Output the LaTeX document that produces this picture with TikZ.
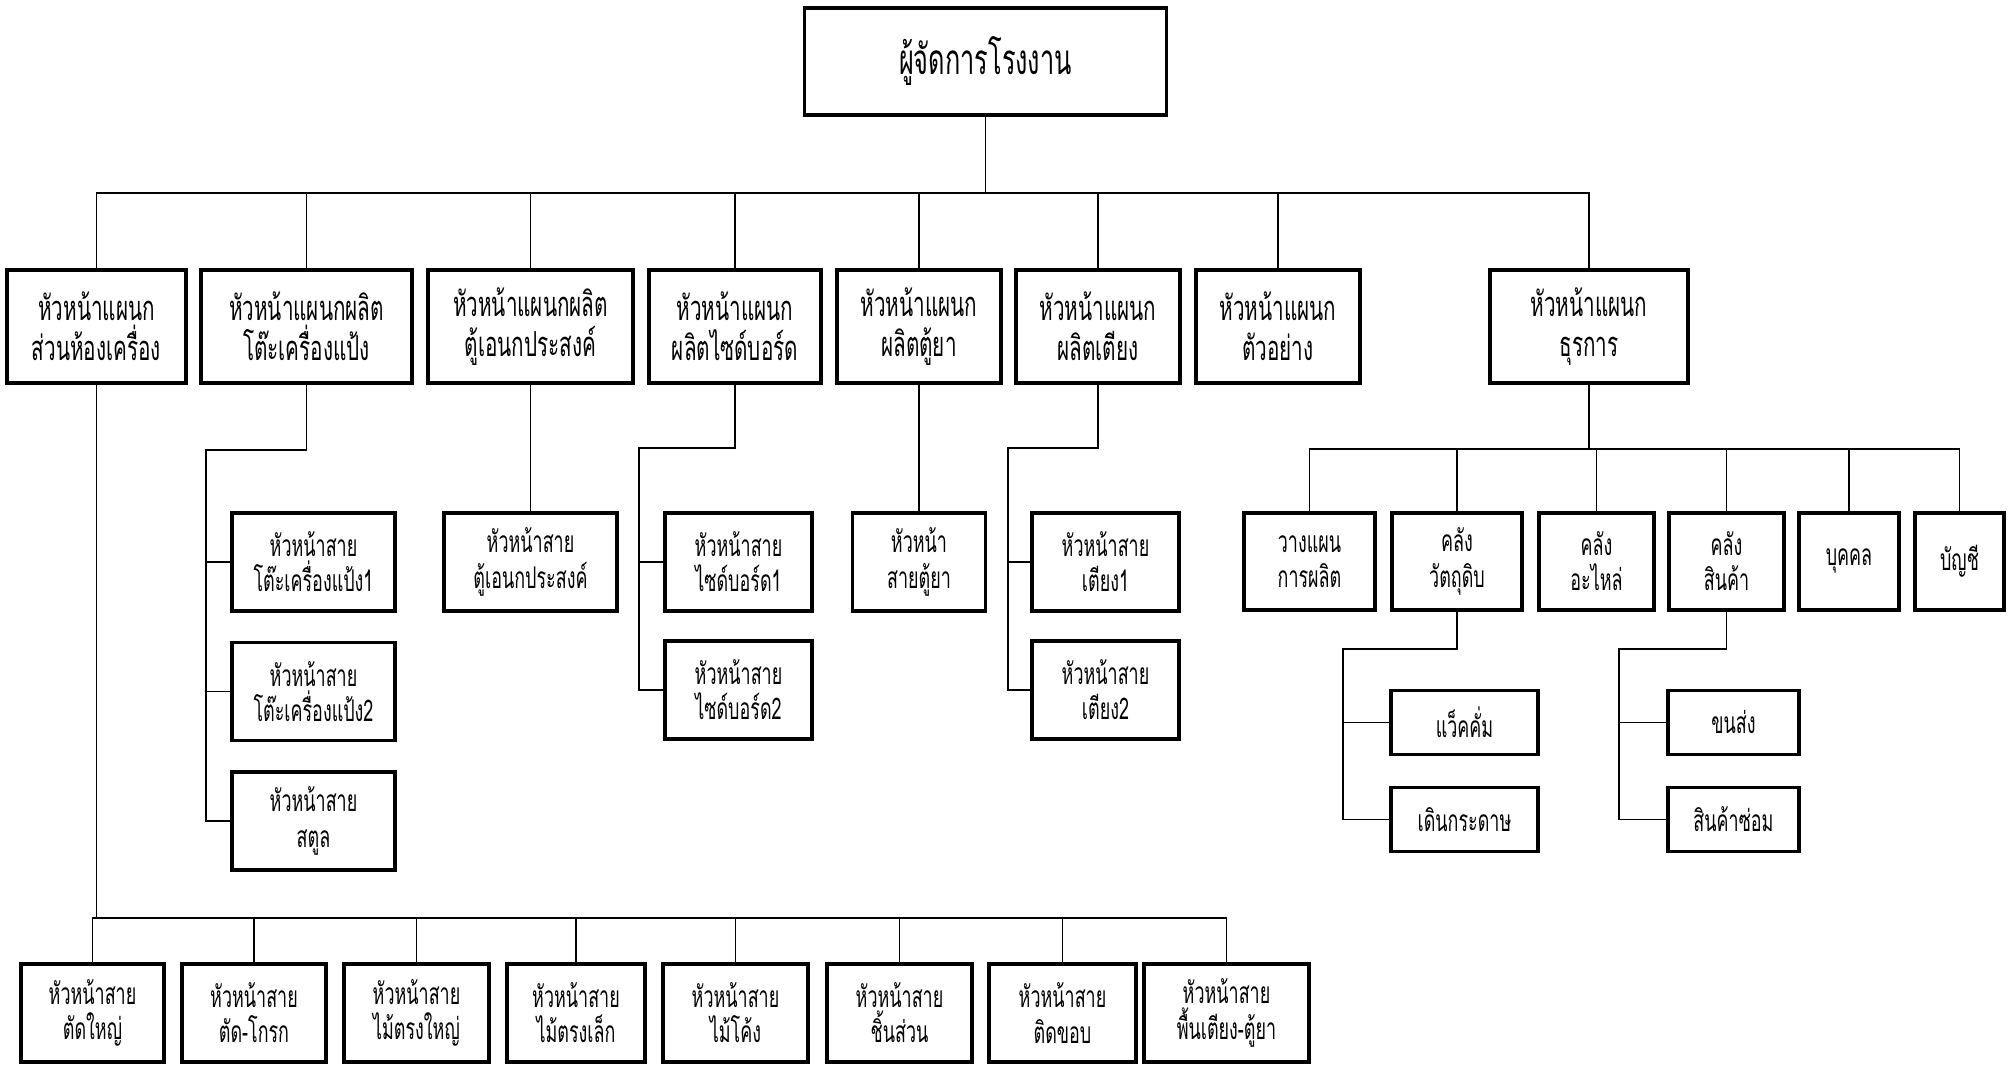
\documentclass[tikz,border=0pt]{standalone}
\usepackage{fontspec}
\newfontfamily\thai[Script=Thai,FakeStretch=0.6]{Loma}

\begin{document}
\begin{tikzpicture}[x=0.01cm,y=-0.01cm,
  box/.style={draw,line width=0.9pt,align=center,inner sep=0pt,
    font=\thai\fontsize{8.5pt}{10pt}\selectfont},
  dept/.style={box,minimum height=1.13cm,font=\thai\fontsize{9.8pt}{11.4pt}\selectfont},
  sub/.style={box,minimum height=0.98cm},
  small/.style={box,minimum height=0.64cm},
  ln/.style={line width=0.5pt}]
  \useasboundingbox (0,0) rectangle (2008,1065);

  % manager
  \node[box,minimum width=3.61cm,minimum height=1.07cm,
    font=\thai\fontsize{12pt}{14pt}\selectfont] (mgr) at (985.5,61.5) {ผู้จัดการโรงงาน};

  % departments
  \node[dept,minimum width=1.79cm] (d1) at (96.5,326.5) {หัวหน้าแผนก\\ส่วนห้องเครื่อง};
  \node[dept,minimum width=2.11cm] (d2) at (306.5,326.5) {หัวหน้าแผนกผลิต\\โต๊ะเครื่องแป้ง};
  \node[dept,minimum width=2.05cm] (d3) at (530.5,326.5) {หัวหน้าแผนกผลิต\\ตู้เอนกประสงค์};
  \node[dept,minimum width=1.72cm] (d4) at (735,326.5) {หัวหน้าแผนก\\ผลิตไซด์บอร์ด};
  \node[dept,minimum width=1.64cm] (d5) at (919,326.5) {หัวหน้าแผนก\\ผลิตตู้ยา};
  \node[dept,minimum width=1.64cm] (d6) at (1098,326.5) {หัวหน้าแผนก\\ผลิตเตียง};
  \node[dept,minimum width=1.64cm] (d7) at (1278,326.5) {หัวหน้าแผนก\\ตัวอย่าง};
  \node[dept,minimum width=1.98cm] (d8) at (1589,326.5) {หัวหน้าแผนก\\ธุรการ};

  % line heads
  \node[sub,minimum width=1.63cm] (s2a) at (313.5,562) {หัวหน้าสาย\\โต๊ะเครื่องแป้ง1};
  \node[sub,minimum width=1.63cm] (s2b) at (313.5,691.5) {หัวหน้าสาย\\โต๊ะเครื่องแป้ง2};
  \node[sub,minimum width=1.63cm] (s2c) at (313.5,821) {หัวหน้าสาย\\สตูล};
  \node[sub,minimum width=1.73cm] (s3) at (530.5,562) {หัวหน้าสาย\\ตู้เอนกประสงค์};
  \node[sub,minimum width=1.47cm] (s4a) at (738.5,562) {หัวหน้าสาย\\ไซด์บอร์ด1};
  \node[sub,minimum width=1.47cm] (s4b) at (738.5,690) {หัวหน้าสาย\\ไซด์บอร์ด2};
  \node[sub,minimum width=1.33cm] (s5) at (919,562) {หัวหน้า\\สายตู้ยา};
  \node[sub,minimum width=1.47cm] (s6a) at (1105.5,562) {หัวหน้าสาย\\เตียง1};
  \node[sub,minimum width=1.47cm] (s6b) at (1105.5,690) {หัวหน้าสาย\\เตียง2};

  % administration
  \node[sub,minimum width=1.31cm,minimum height=0.97cm] (a1) at (1309.5,561.5) {วางแผน\\การผลิต};
  \node[sub,minimum width=1.30cm,minimum height=0.97cm] (a2) at (1457,561.5) {คลัง\\วัตถุดิบ};
  \node[sub,minimum width=1.15cm,minimum height=0.97cm] (a3) at (1596.5,561.5) {คลัง\\อะไหล่};
  \node[sub,minimum width=1.15cm,minimum height=0.97cm] (a4) at (1726.5,561.5) {คลัง\\สินค้า};
  \node[sub,minimum width=1.00cm,minimum height=0.97cm] (a5) at (1849,561.5) {บุคคล};
  \node[sub,minimum width=0.89cm,minimum height=0.97cm] (a6) at (1959.5,561.5) {บัญชี};
  \node[small,minimum width=1.47cm] (w1) at (1464.5,722.5) {แว็คคั่ม};
  \node[small,minimum width=1.47cm] (w2) at (1464.5,819.5) {เดินกระดาษ};
  \node[small,minimum width=1.31cm] (p1) at (1733.5,722.5) {ขนส่ง};
  \node[small,minimum width=1.31cm] (p2) at (1733.5,819.5) {สินค้าซ่อม};

  % machine room lines
  \node[sub,minimum width=1.43cm] (b1) at (92.5,1013) {หัวหน้าสาย\\ตัดใหญ่};
  \node[sub,minimum width=1.44cm] (b2) at (254,1013) {หัวหน้าสาย\\ตัด-โกรก};
  \node[sub,minimum width=1.45cm] (b3) at (416.5,1013) {หัวหน้าสาย\\ไม้ตรงใหญ่};
  \node[sub,minimum width=1.38cm] (b4) at (576,1013) {หัวหน้าสาย\\ไม้ตรงเล็ก};
  \node[sub,minimum width=1.45cm] (b5) at (735.5,1013) {หัวหน้าสาย\\ไม้โค้ง};
  \node[sub,minimum width=1.45cm] (b6) at (899.5,1013) {หัวหน้าสาย\\ชิ้นส่วน};
  \node[sub,minimum width=1.47cm] (b7) at (1062.5,1013) {หัวหน้าสาย\\ติดขอบ};
  \node[sub,minimum width=1.65cm] (b8) at (1226.5,1013) {หัวหน้าสาย\\พื้นเตียง-ตู้ยา};

  % connectors
  \coordinate (busA) at (0,193);
  \coordinate (busB) at (0,918);
  \coordinate (busC) at (0,449);
  \coordinate (sp2) at (206,450);
  \coordinate (sp4) at (639,448);
  \coordinate (sp6) at (1008,448);
  \coordinate (spw) at (1343,649);
  \coordinate (spp) at (1619,649);
  \foreach \i in {1,...,8}
    \draw[ln] (mgr.south) -- (mgr.south |- busA) -| (d\i.north);
  \foreach \i in {1,...,8}
    \draw[ln] (d1.south) -- (d1.south |- busB) -| (b\i.north);
  \foreach \i in {1,...,6}
    \draw[ln] (d8.south) -- (d8.south |- busC) -| (a\i.north);
  \foreach \s in {s2a,s2b,s2c}
    \draw[ln] (d2.south) |- (sp2) |- (\s.west);
  \foreach \s in {s4a,s4b}
    \draw[ln] (d4.south) |- (sp4) |- (\s.west);
  \foreach \s in {s6a,s6b}
    \draw[ln] (d6.south) |- (sp6) |- (\s.west);
  \foreach \s in {w1,w2}
    \draw[ln] (a2.south) |- (spw) |- (\s.west);
  \foreach \s in {p1,p2}
    \draw[ln] (a4.south) |- (spp) |- (\s.west);
  \draw[ln] (d3) -- (s3);
  \draw[ln] (d5) -- (s5);
\end{tikzpicture}
\end{document}
